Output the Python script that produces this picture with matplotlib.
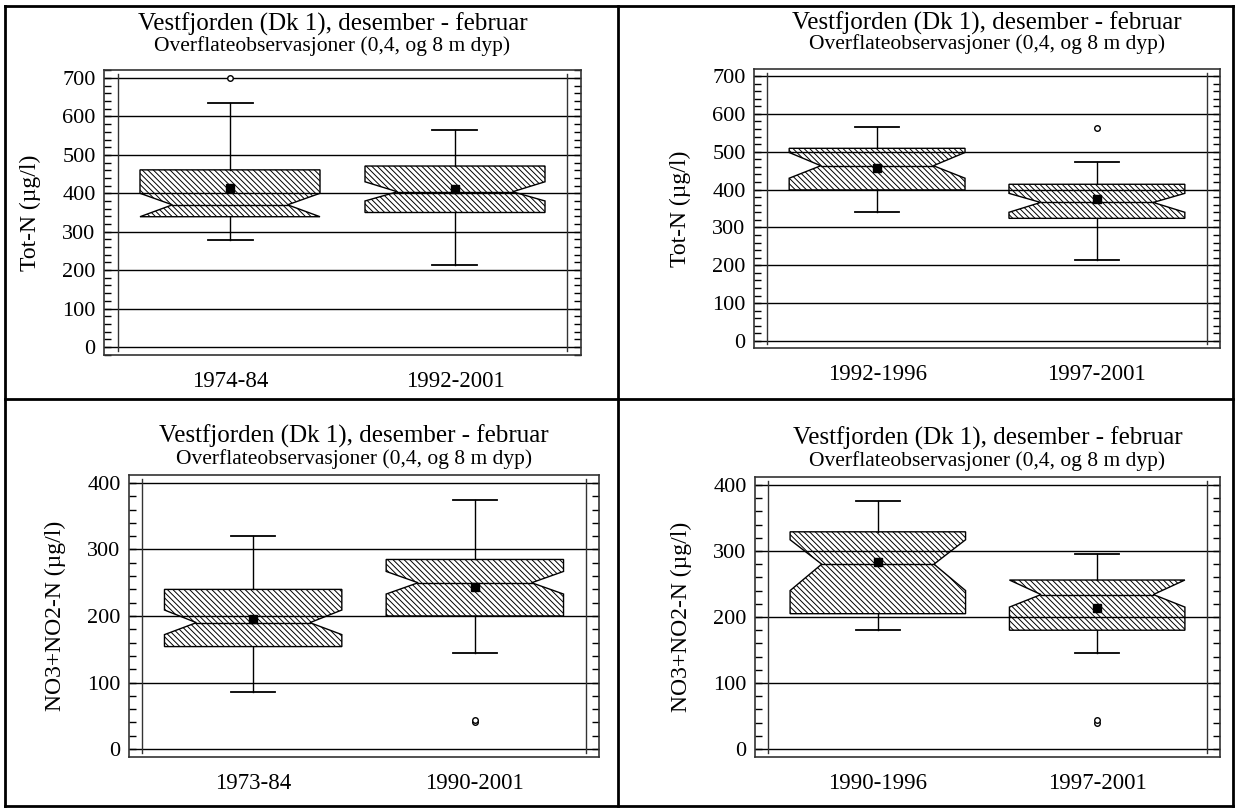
import matplotlib
matplotlib.use("Agg")
import matplotlib.pyplot as plt
from matplotlib.lines import Line2D
from matplotlib.ticker import MultipleLocator

plt.rcParams['font.family'] = ['Liberation Serif', 'DejaVu Serif']
plt.rcParams['hatch.linewidth'] = 0.7

W, H = 1236, 809

tittel = "Vestfjorden (Dk 1), desember - februar"
undertittel = "Overflateobservasjoner (0,4, og 8 m dyp)"

# --- Tot-N, 1974-84 mot 1992-2001 (oppe til venstre)
a_perioder = ['1974-84', '1992-2001']
a_q1 = [339, 350]
a_q3 = [461, 471]
a_median = [370, 404]
a_notch_lo = [339, 380]
a_notch_hi = [400, 430]
a_whis_lo = [278, 213]
a_whis_hi = [635, 565]
a_snitt = [415, 411]
a_avvik = [[700], []]

# --- Tot-N, 1992-1996 mot 1997-2001 (oppe til hoyre)
b_perioder = ['1992-1996', '1997-2001']
b_q1 = [399, 324]
b_q3 = [509, 414]
b_median = [463, 366]
b_notch_lo = [430, 340]
b_notch_hi = [498, 390]
b_whis_lo = [340, 215]
b_whis_hi = [565, 474]
b_snitt = [456, 374]
b_avvik = [[], [563]]

# --- NO3+NO2-N, 1973-84 mot 1990-2001 (nede til venstre)
c_perioder = ['1973-84', '1990-2001']
c_q1 = [154, 200]
c_q3 = [240, 285]
c_median = [190, 250]
c_notch_lo = [172, 233]
c_notch_hi = [209, 267]
c_whis_lo = [85, 145]
c_whis_hi = [320, 375]
c_snitt = [196, 243]
c_avvik = [[], [40, 44]]

# --- NO3+NO2-N, 1990-1996 mot 1997-2001 (nede til hoyre)
d_perioder = ['1990-1996', '1997-2001']
d_q1 = [205, 180]
d_q3 = [329, 256]
d_median = [280, 234]
d_notch_lo = [240, 215]
d_notch_hi = [317, 256]
d_whis_lo = [180, 145]
d_whis_hi = [375, 295]
d_snitt = [284, 213]
d_avvik = [[], [40, 44]]


def boks(ax, x, q1, q3, med, nlo, nhi, lo, hi, snitt, avvik, w=0.8, cap=0.2):
    """tegner en boks med hakk (notch), skravert"""
    inn = 0.18 * w
    l, r = x - w / 2, x + w / 2
    xs = [l, l, l + inn, l, l, r, r, r - inn, r, r]
    ys = [q1, nlo, med, nhi, q3, q3, nhi, med, nlo, q1]
    ax.fill(xs, ys, facecolor='none', edgecolor='black', hatch='\\' * 6, lw=1, zorder=3)
    ax.plot([l + inn, r - inn], [med, med], color='black', lw=1, zorder=4)
    # whiskers
    ax.plot([x, x], [q3, hi], color='black', lw=1, zorder=3)
    ax.plot([x, x], [q1, lo], color='black', lw=1, zorder=3)
    ax.plot([x - cap / 2, x + cap / 2], [hi, hi], color='black', lw=1.3, zorder=3)
    ax.plot([x - cap / 2, x + cap / 2], [lo, lo], color='black', lw=1.3, zorder=3)
    ax.plot([x], [snitt], 's', color='black', ms=6, zorder=5)
    for v in avvik:
        ax.plot([x], [v], 'o', mfc='white', mec='black', ms=4, mew=1, zorder=5)


def panel(piksler, ylim, ymax, ytekst, perioder, q1, q3, med, nlo, nhi, lo, hi, snitt, avvik,
          t1=39, t2=16, dx=0):
    l, t, r, b = piksler
    ax = fig.add_axes([l / W, 1 - b / H, (r - l) / W, (b - t) / H])
    for i in range(len(perioder)):
        boks(ax, i + 1, q1[i], q3[i], med[i], nlo[i], nhi[i], lo[i], hi[i], snitt[i], avvik[i])
    ax.set_xlim(0.44, 2.56)
    ax.set_ylim(*ylim)
    ax.set_xticks([1, 2])
    ax.set_xticklabels(perioder, fontsize=16.5)
    ax.set_yticks(range(0, ymax + 1, 100))
    ax.yaxis.set_minor_locator(MultipleLocator(20))
    ax.tick_params(axis='y', which='both', direction='in', left=True, right=True,
                   length=5, width=1, labelsize=16, pad=6)
    ax.tick_params(axis='x', which='both', bottom=False, top=False, pad=8)
    ax.grid(axis='y', which='major', color='black', lw=1, zorder=1)
    ax.axvline(0.5, 0.015, 0.985, color='#333333', lw=1, zorder=2)
    ax.axvline(2.5, 0.015, 0.985, color='#333333', lw=1, zorder=2)
    for s in ax.spines.values():
        s.set_linewidth(1.2)
        s.set_color('#333333')
    ax.set_ylabel(ytekst, fontsize=17)
    ax.yaxis.set_label_coords(-63 / (r - l), 0.5)
    xm = ((l + r) / 2 + dx) / W
    fig.text(xm, 1 - (t - t1) / H, tittel, ha='center', va='center', fontsize=18)
    fig.text(xm, 1 - (t - t2) / H, undertittel, ha='center', va='center', fontsize=15.5)
    return ax


fig = plt.figure(figsize=(W / 100, H / 100), dpi=100)

panel((104, 70, 581, 355), (-21, 721), 700, 'Tot-N (µg/l)',
      a_perioder, a_q1, a_q3, a_median, a_notch_lo, a_notch_hi, a_whis_lo, a_whis_hi, a_snitt, a_avvik,
      t1=46, t2=24, dx=-10)
panel((754, 69, 1220, 348), (-18.5, 718.5), 700, 'Tot-N (µg/l)',
      b_perioder, b_q1, b_q3, b_median, b_notch_lo, b_notch_hi, b_whis_lo, b_whis_hi, b_snitt, b_avvik,
      t1=46, t2=25)
panel((129, 475, 599, 757), (-12, 412), 400, 'NO3+NO2-N (µg/l)',
      c_perioder, c_q1, c_q3, c_median, c_notch_lo, c_notch_hi, c_whis_lo, c_whis_hi, c_snitt, c_avvik,
      dx=-10)
panel((755, 477, 1220, 757), (-12, 412), 400, 'NO3+NO2-N (µg/l)',
      d_perioder, d_q1, d_q3, d_median, d_notch_lo, d_notch_hi, d_whis_lo, d_whis_hi, d_snitt, d_avvik)

# rammer rundt panelene
def strek(x0, y0, x1, y1):
    fig.add_artist(Line2D([x0 / W, x1 / W], [1 - y0 / H, 1 - y1 / H],
                          transform=fig.transFigure, color='black', lw=2))

strek(5, 6, 1233, 6)
strek(5, 806, 1233, 806)
strek(5, 6, 5, 806)
strek(1233, 6, 1233, 806)
strek(618, 6, 618, 806)
strek(5, 399, 1233, 399)

fig.savefig('out.png', dpi=100)
